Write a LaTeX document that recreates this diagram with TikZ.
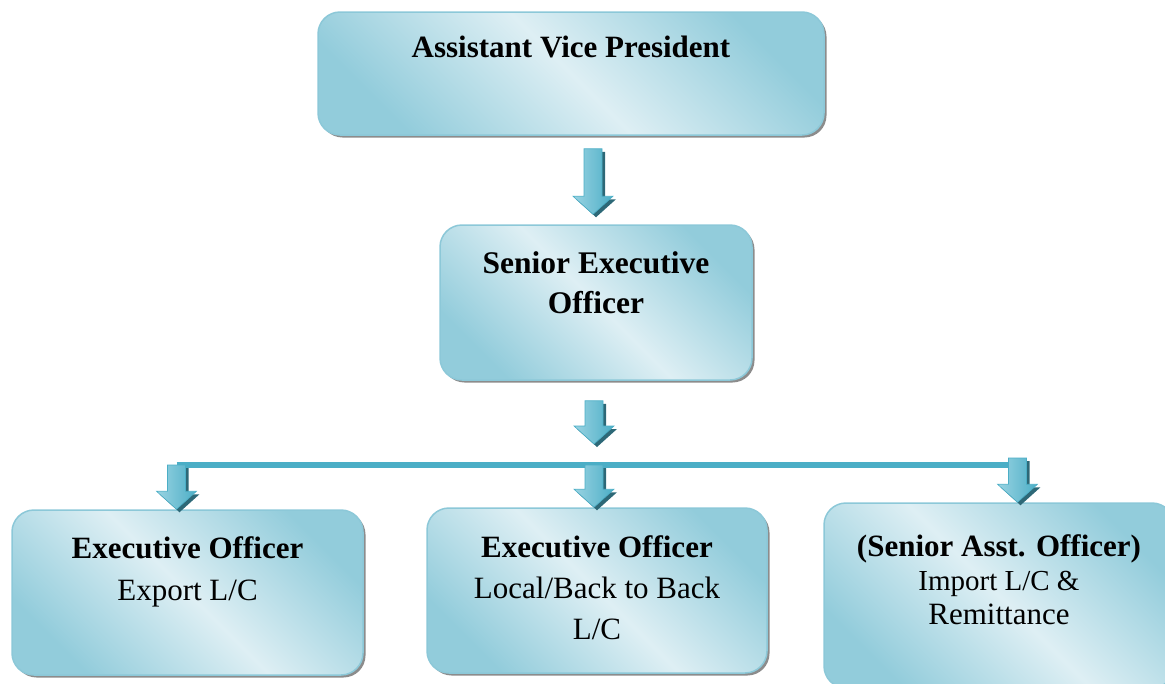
\documentclass[tikz,border=0pt]{standalone}
\usepackage{fontspec}
\setmainfont{Liberation Serif}
\usetikzlibrary{positioning, calc, shadows}
\definecolor{boxdark}{HTML}{92CCDB}
\definecolor{boxlight}{HTML}{DEEFF4}
\definecolor{boxline}{HTML}{8CC8D8}
\definecolor{arrowmain}{HTML}{4BAEC6}
\definecolor{arrowlight}{HTML}{9AD3E2}
\definecolor{arrowshade}{HTML}{2D6877}

\tikzset{
  post/.style={rounded corners=22pt, draw=boxline, line width=1.5pt,
    top color=boxdark, bottom color=boxdark, middle color=boxlight, shading angle=-45,
    general shadow={fill=black!45, shadow xshift=2.5pt, shadow yshift=-2.5pt}},
  posttext/.style={align=center, inner sep=0pt, font=\fontsize{31}{42}\selectfont},
  blockdown/.style={to path={let \p1=(\tikztostart), \p2=(\tikztotarget) in
    (\x1-9pt,\y1) -- (\x1+9pt,\y1) -- (\x1+9pt,\y2+18pt) -- (\x1+20pt,\y2+18pt)
    -- (\x1,\y2) -- (\x1-20pt,\y2+18pt) -- (\x1-9pt,\y2+18pt) -- cycle},
    left color=arrowlight, right color=arrowmain, draw=arrowmain, line width=0.6pt,
    preaction={fill=arrowshade, transform canvas={shift={(3pt,-3pt)}}}},
  busline/.style={line width=6pt, arrowmain}
}

\begin{document}
\begin{tikzpicture}[x=1pt, y=-1pt]
  \useasboundingbox (0,0) rectangle (1165,683);
  \clip (0,0) rectangle (1165,683);
  % boxes
  \node[post, minimum width=506pt, minimum height=123pt] (avp) at (571,73.5) {};
  \node[post, minimum width=312pt, minimum height=155pt] (seo) at (596,302.5) {};
  \node[post, minimum width=351pt, minimum height=165pt] (eo1) at (187.5,592.5) {};
  \node[post, minimum width=340pt, minimum height=165pt] (eo2) at (597,590.5) {};
  \node[post, minimum width=350pt, minimum height=185pt] (sao) at (999,595.5) {};
  % texts
  \node[posttext, below=25pt of avp.north] (avpT) {\textbf{Assistant Vice President}};
  \node[posttext, font=\fontsize{31.5}{40}\selectfont, below=27pt of seo.north] (seoT)
    {\textbf{Senior Executive}\\\textbf{Officer}};
  \node[posttext, below=27pt of eo1.north] (eo1T) {\textbf{Executive Officer}\\Export L/C};
  \node[posttext, font=\fontsize{31}{41}\selectfont, below=28pt of eo2.north] (eo2T)
    {\textbf{Executive Officer}\\Local/Back to Back\\L/C};
  \node[posttext, font=\fontsize{31}{34}\selectfont, below=32pt of sao.north] (saoT)
    {\textbf{(Senior Asst. Officer)}\\\fontsize{29}{34}\selectfont Import L/C \&\\Remittance};
  % bus
  \coordinate (bus) at (594,465);
  \coordinate (busL) at (176.5,465);
  \coordinate (busR) at (1017.5,465);
  \draw[busline] (busL) -- (busR);
  % arrows
  \path[blockdown] ([xshift=22pt,yshift=-13pt]avp.south) to ([xshift=-3pt,yshift=10pt]seo.north);
  \path[blockdown] ([xshift=-2pt,yshift=-20pt]seo.south) to ([yshift=21pt]bus);
  \path[blockdown] (busL) to (busL |- eo1.north);
  \path[blockdown] (bus) to (bus |- eo2.north);
  \path[blockdown] ([yshift=7pt]busR) to (busR |- sao.north);
\end{tikzpicture}
\end{document}
